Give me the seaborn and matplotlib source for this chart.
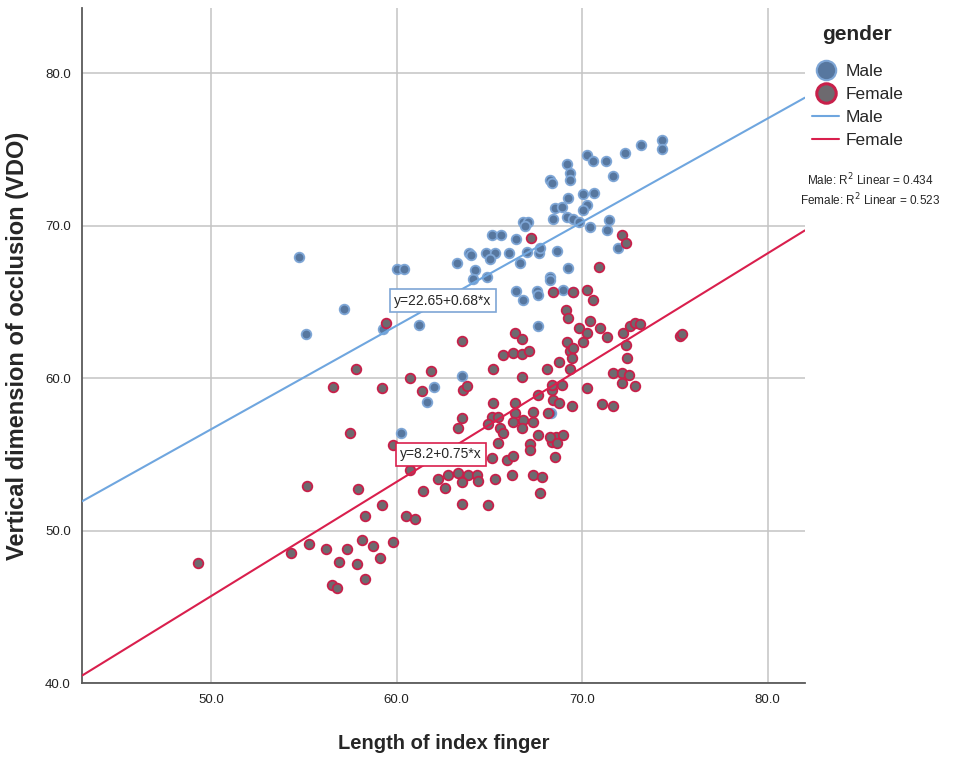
import pandas as pd
import matplotlib
matplotlib.use("Agg")
import matplotlib.pyplot as plt
from matplotlib.lines import Line2D
import seaborn as sns
import numpy as np

# values (finger length, VDO)
male_x = [54.74, 55.12, 57.17, 60.0, 60.4, 59.27, 61.21, 61.64, 62.02, 63.53, 60.24,
          74.31, 74.31, 73.18, 72.32, 70.27, 70.59, 71.29, 71.67, 69.19, 69.35, 69.35,
          68.27, 68.38, 70.05, 70.65, 69.25, 70.27, 70.05, 68.54, 68.92, 68.44, 69.19,
          69.51, 69.84, 66.82, 67.09, 70.43, 71.35, 71.46, 71.94, 67.03, 67.68, 67.74,
          68.65, 66.66, 69.25, 68.27, 68.27, 67.57, 67.63, 66.82, 68.98, 69.51,
          66.93, 65.15, 65.63, 66.44, 63.91, 64.02, 64.82, 65.31, 65.04, 66.06, 63.26,
          64.23, 64.12, 64.88, 66.44, 67.63, 68.33]
male_y = [67.96, 62.89, 64.54, 67.17, 67.17, 63.22, 63.49, 58.42, 59.41, 60.13, 56.38,
          75.66, 75.07, 75.33, 74.8, 74.67, 74.28, 74.28, 73.29, 74.08, 73.49, 73.03,
          73.03, 72.83, 72.1, 72.17, 71.84, 71.38, 71.05, 71.18, 71.25, 70.46, 70.59,
          70.46, 70.26, 70.26, 70.26, 69.93, 69.74, 70.39, 68.55, 68.29, 68.22, 68.55,
          68.36, 67.57, 67.24, 66.64, 66.45, 65.72, 65.46, 65.13, 65.79, 65.66,
          70.0, 69.41, 69.41, 69.14, 68.22, 68.09, 68.22, 68.22, 67.83, 68.22, 67.57,
          67.11, 66.51, 66.64, 65.72, 63.42, 57.7]

female_x = [59.43, 57.82, 56.58, 59.22, 60.73, 61.86, 61.37, 63.53, 63.59, 63.8, 65.2,
            65.74, 66.28, 66.77, 67.14, 66.39, 66.77, 66.77, 63.53, 63.32, 57.49, 59.81,
            60.73, 55.17, 57.92, 61.43,
            49.3, 58.3, 59.22, 60.51, 61.0, 54.31, 55.28, 56.2, 57.33, 56.9, 57.87, 58.14,
            58.73, 59.11, 59.81, 56.52, 56.79, 58.3,
            65.2, 66.39, 65.15, 64.93, 65.47, 65.58, 65.74, 65.47, 66.39, 66.28, 66.82,
            66.77, 67.36, 67.36, 67.63, 68.38, 68.17, 67.63, 67.2, 68.38, 68.6, 68.54,
            65.15, 65.96, 66.28, 66.23, 65.31, 67.36, 67.84, 67.74, 62.24, 62.78, 63.32,
            63.85, 64.34, 64.39, 62.61, 63.53, 63.53, 64.93,
            69.14, 69.25, 69.19, 69.35, 69.51, 69.46, 68.76, 68.11, 69.35, 68.38, 68.92,
            70.43, 69.84, 70.27, 70.05, 70.97, 71.35, 72.21, 72.59, 72.86, 73.13, 72.37,
            72.43, 75.28, 75.39, 71.67, 72.16, 72.53, 72.16, 72.86, 70.27, 68.44, 68.76,
            69.46, 71.08, 71.67, 68.27, 68.98, 68.65, 67.2,
            67.25, 72.16, 72.37, 70.92, 68.44, 69.51, 70.27, 70.59]
female_y = [63.62, 60.59, 59.41, 59.34, 60.0, 60.46, 59.14, 62.43, 59.21, 59.47, 60.59,
            61.51, 61.64, 61.58, 61.78, 62.96, 62.57, 60.07, 57.37, 56.71, 56.38, 55.59,
            53.95, 52.9, 52.7, 52.57,
            47.89, 50.99, 51.71, 50.99, 50.79, 48.55, 49.14, 48.82, 48.82, 47.96, 47.83,
            49.41, 49.01, 48.22, 49.28, 46.45, 46.25, 46.84,
            58.36, 58.36, 57.43, 56.97, 57.43, 56.71, 56.38, 55.72, 57.7, 57.11, 57.24,
            56.71, 57.76, 57.11, 58.88, 59.21, 57.7, 56.25, 55.66, 55.79, 56.12, 54.8,
            54.74, 54.61, 54.87, 53.62, 53.42, 53.62, 53.49, 52.5, 53.42, 53.62, 53.75,
            53.62, 53.62, 53.29, 52.83, 53.16, 51.78, 51.71,
            64.47, 63.95, 62.37, 61.78, 61.97, 61.32, 61.05, 60.59, 60.59, 59.54, 59.54,
            63.75, 63.29, 62.96, 62.37, 63.29, 62.7, 62.96, 63.42, 63.62, 63.55, 62.17,
            61.32, 62.76, 62.89, 60.33, 60.33, 60.2, 59.67, 59.47, 59.34, 58.55, 58.36,
            58.16, 58.29, 58.16, 56.12, 56.25, 55.72, 55.26,
            69.21, 69.41, 68.88, 67.3, 65.66, 65.66, 65.79, 65.13]

# fitted lines as printed on the chart
groups = ["Male", "Female"]
intercepts = [22.65, 8.2]
slopes = [0.68, 0.75]
fit_labels = ["y=22.65+0.68*x", "y=8.2+0.75*x"]
r2_labels = ["Male: R$^2$ Linear = 0.434", "Female: R$^2$ Linear = 0.523"]

df = pd.DataFrame({
    "finger": male_x + female_x,
    "vdo": male_y + female_y,
    "gender": ["Male"] * len(male_x) + ["Female"] * len(female_x),
})

sns.set_style("white")
plt.rcParams["font.family"] = ["Liberation Sans", "DejaVu Sans"]

fill = {"Male": "#57779f", "Female": "#6d6a6f"}
edge = {"Male": "#7ea6d6", "Female": "#c8204a"}
line_col = {"Male": "#6fa6df", "Female": "#d91f4d"}
box_col = {"Male": "#7ea6d6", "Female": "#d91f4d"}

fig = plt.figure(figsize=(9.72, 7.59), dpi=100)
ax = fig.add_axes([0.0844, 0.1001, 0.7436, 0.8894])

xlim = (43.05, 82.0)
ylim = (40.0, 84.3)

for g in groups:
    sub = df[df["gender"] == g]
    sns.scatterplot(data=sub, x="finger", y="vdo", ax=ax, color=fill[g],
                    edgecolor=edge[g], linewidth=1.3, s=48, zorder=3, legend=False)

xs = np.array(xlim)
for g, b0, b1 in zip(groups, intercepts, slopes):
    ax.plot(xs, b0 + b1 * xs, color=line_col[g], lw=1.5, zorder=4)

# equation boxes
ax.text(62.5, 65.1, fit_labels[0], fontsize=10, ha="center", va="center", zorder=5,
        bbox=dict(boxstyle="square,pad=0.3", fc="white", ec=box_col["Male"], lw=1.2))
ax.text(62.4, 55.0, fit_labels[1], fontsize=10, ha="center", va="center", zorder=5,
        bbox=dict(boxstyle="square,pad=0.3", fc="white", ec=box_col["Female"], lw=1.2))

ax.set_xlim(xlim)
ax.set_ylim(ylim)
ax.set_xticks([50, 60, 70, 80])
ax.set_yticks([40, 50, 60, 70, 80])
ax.set_xticklabels([f"{v:.1f}" for v in [50, 60, 70, 80]])
ax.set_yticklabels([f"{v:.1f}" for v in [40, 50, 60, 70, 80]])
ax.tick_params(length=0, labelsize=9.5, colors="#222222", pad=8)
ax.grid(True, color="#c4c4c4", lw=1.1)
ax.set_axisbelow(True)
sns.despine(ax=ax)
for sp in ["left", "bottom"]:
    ax.spines[sp].set_color("#5a5a5a")
    ax.spines[sp].set_linewidth(1.3)

ax.set_xlabel("Length of index finger", fontsize=14.5, fontweight="bold", labelpad=20)
ax.set_ylabel("Vertical dimension of occlusion (VDO)", fontsize=17, fontweight="bold",
              labelpad=12)

handles = [
    Line2D([], [], ls="", marker="o", ms=14, mfc=fill["Male"], mec=edge["Male"], mew=1.5),
    Line2D([], [], ls="", marker="o", ms=14, mfc=fill["Female"], mec=edge["Female"], mew=2.2),
    Line2D([], [], color=line_col["Male"], lw=1.5),
    Line2D([], [], color=line_col["Female"], lw=1.5),
]
leg = ax.legend(handles, groups + groups, title="gender", loc="upper left",
                bbox_to_anchor=(0.995, 0.99), frameon=False, fontsize=12.5,
                title_fontproperties={"weight": "bold", "size": 15},
                handlelength=1.6, handletextpad=0.35, labelspacing=0.45,
                borderaxespad=0.2)
leg._legend_box.sep = 14

fig.text(0.895, 0.763, r2_labels[0], fontsize=8.5, ha="center", va="center")
fig.text(0.895, 0.737, r2_labels[1], fontsize=8.5, ha="center", va="center")

fig.savefig("out.png", dpi=100)
